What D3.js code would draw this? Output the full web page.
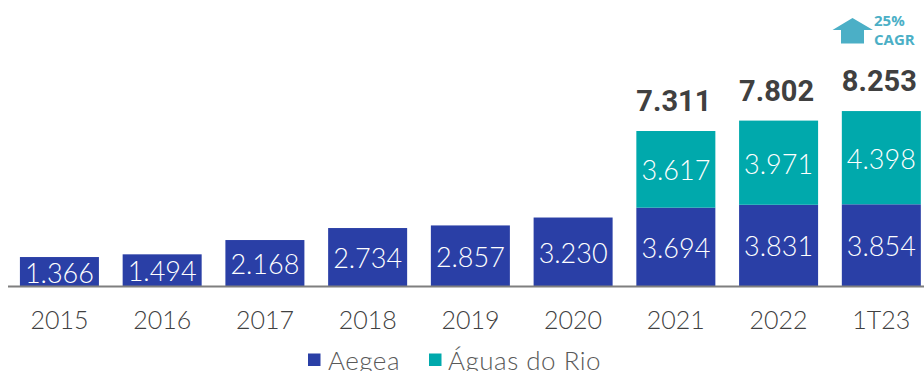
<!DOCTYPE html>
<html>
<head>
<meta charset="utf-8">
<script src="https://cdn.jsdelivr.net/npm/d3@7"></script>
<style>
  html, body { margin: 0; padding: 0; background: #fff; }
  svg { display: block; }
</style>
</head>
<body>
<svg id="chart" width="924" height="371"></svg>
<script>
// Periods and revenue by company (R$ mm)
const categories = ["2015", "2016", "2017", "2018", "2019", "2020", "2021", "2022", "1T23"];
const aegea = [1.366, 1.494, 2.168, 2.734, 2.857, 3.230, 3.694, 3.831, 3.854];
const aguasDoRio = [0, 0, 0, 0, 0, 0, 3.617, 3.971, 4.398];
const totals = [null, null, null, null, null, null, 7.311, 7.802, 8.253];
const seriesNames = ["Aegea", "Águas do Rio"];
const cagrLabel = ["25%", "CAGR"];

const colors = { "Aegea": "#2a3fa6", "Águas do Rio": "#00a9ac" };
const fmt = v => v.toFixed(3);

const svg = d3.select("#chart");
const W = 924, H = 371;
const baseY = 286;

const x = d3.scaleBand()
  .domain(categories)
  .range([8, 8 + 102.75 * categories.length])
  .paddingInner(0.231)
  .paddingOuter(0.116);

const y = d3.scaleLinear().domain([0, 10]).range([baseY, baseY - 212]);

const rows = categories.map((c, i) => ({ cat: c, "Aegea": aegea[i], "Águas do Rio": aguasDoRio[i], total: totals[i] }));
const stacked = d3.stack().keys(seriesNames)(rows);

const labelFont = "Lato, 'Open Sans', sans-serif";

// stacked bars with their segment values
stacked.forEach(layer => {
  const g = svg.append("g");
  const segs = layer.filter(d => d[1] - d[0] > 0);
  g.selectAll("rect").data(segs).join("rect")
    .attr("x", d => x(d.data.cat))
    .attr("y", d => y(d[1]))
    .attr("width", x.bandwidth())
    .attr("height", d => y(d[0]) - y(d[1]))
    .attr("fill", colors[layer.key]);
  g.selectAll("text").data(segs).join("text")
    .attr("x", d => x(d.data.cat) + x.bandwidth() / 2)
    .attr("y", d => (y(d[0]) + y(d[1])) / 2 + 11)
    .attr("text-anchor", "middle")
    .attr("font-family", labelFont)
    .attr("font-weight", 300)
    .attr("font-size", 27)
    .attr("fill", "#fff")
    .text(d => fmt(d[1] - d[0]));
});

// baseline
svg.append("line")
  .attr("x1", 8).attr("x2", W)
  .attr("y1", baseY + 0.5).attr("y2", baseY + 0.5)
  .attr("stroke", "#7f7f7f").attr("stroke-width", 2);

// category labels
const xAxis = d3.axisBottom(x).tickSize(0).tickPadding(0);
const ax = svg.append("g").attr("transform", `translate(0,${baseY})`).call(xAxis);
ax.select(".domain").remove();
ax.selectAll("text")
  .attr("y", 43)
  .attr("dy", null)
  .attr("font-family", labelFont)
  .attr("font-weight", 300)
  .attr("font-size", 25)
  .attr("fill", "#404040");

// totals above stacked bars
svg.append("g").selectAll("text").data(rows.filter(r => r.total != null)).join("text")
  .attr("x", d => x(d.cat) + x.bandwidth() / 2 - 2)
  .attr("y", d => y(d.total) - 20)
  .attr("text-anchor", "middle")
  .attr("font-family", "Roboto, sans-serif")
  .attr("font-weight", 700)
  .attr("font-size", 29)
  .attr("fill", "#404040")
  .text(d => fmt(d.total));

// CAGR arrow and label
const arrow = svg.append("g").attr("transform", "translate(852.5,18)");
arrow.append("path")
  .attr("d", "M0,0 L20.5,12 L11.5,12 L11.5,25.5 L-11.5,25.5 L-11.5,12 L-20,12 Z")
  .attr("fill", "#4bafc6");
svg.append("g").selectAll("text").data(cagrLabel).join("text")
  .attr("x", 874)
  .attr("y", (d, i) => 25.5 + i * 19.5)
  .attr("font-family", "'Open Sans', sans-serif")
  .attr("font-weight", 700)
  .attr("font-size", 15)
  .attr("fill", "#4bafc6")
  .text(d => d);

// legend
const legend = svg.append("g");
const legendItems = [
  { name: seriesNames[0], sx: 308, tx: 328 },
  { name: seriesNames[1], sx: 429, tx: 448 }
];
legendItems.forEach(it => {
  legend.append("rect").attr("x", it.sx).attr("y", 353.5).attr("width", 12.5).attr("height", 12.5)
    .attr("fill", colors[it.name]);
  legend.append("text").attr("x", it.tx).attr("y", 370)
    .attr("font-family", labelFont).attr("font-weight", 300).attr("font-size", 26)
    .attr("letter-spacing", 0.5).attr("fill", "#595959")
    .text(it.name);
});
</script>
</body>
</html>
